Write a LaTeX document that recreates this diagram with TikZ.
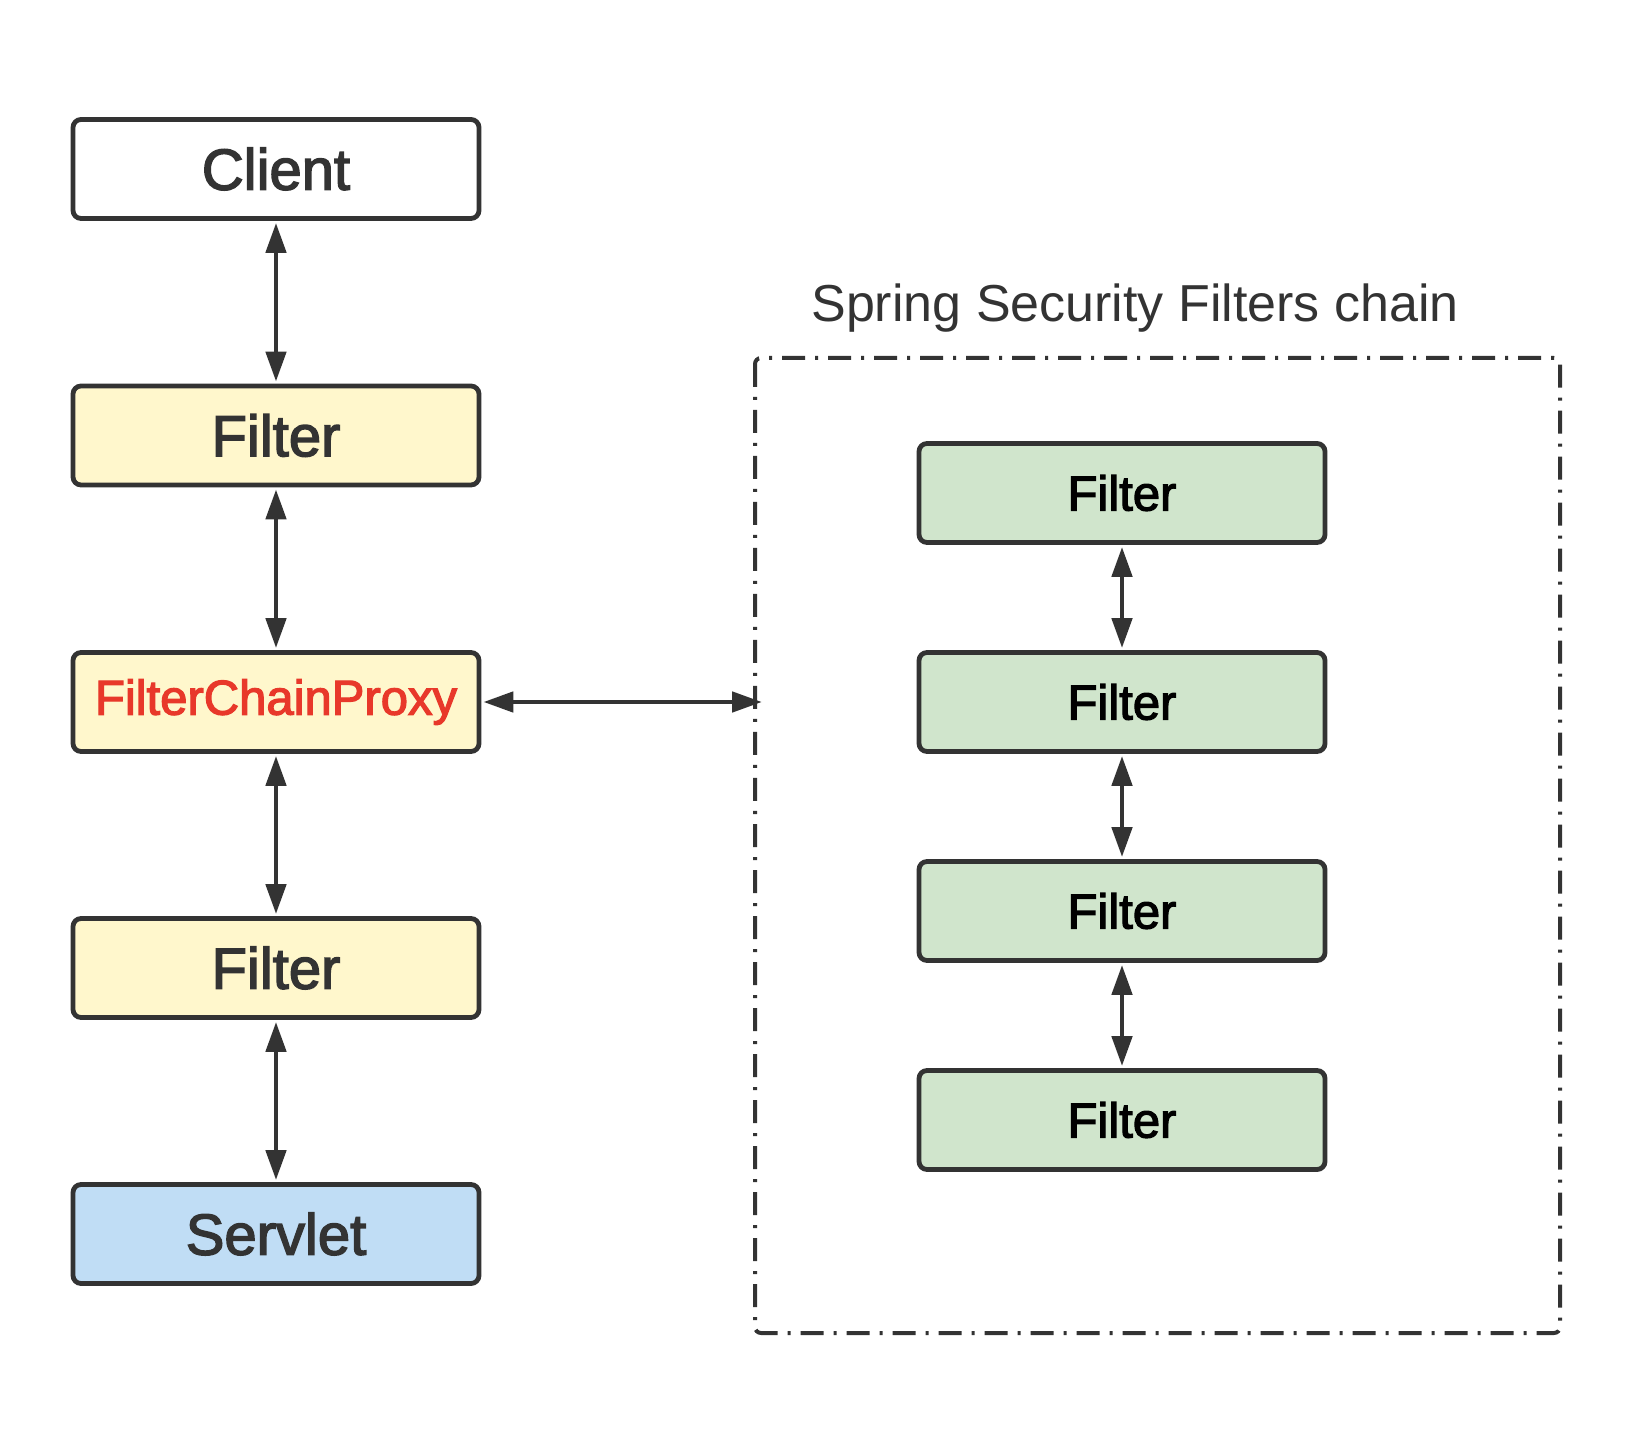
\documentclass[tikz,border=0pt]{standalone}
\usepackage{fontspec}
\setmainfont{Liberation Sans}
\newfontfamily\boxfont{Liberation Sans}[FakeBold=2.5]
\usetikzlibrary{calc,arrows.meta}

\definecolor{edgegray}{HTML}{333333}
\definecolor{proxyred}{HTML}{E8382A}
\definecolor{filteryellow}{HTML}{FFF7CC}
\definecolor{chaingreen}{HTML}{D0E5CC}
\definecolor{servletblue}{HTML}{C0DDF5}

\begin{document}
\begin{tikzpicture}[x=1pt,y=1pt,
  box/.style={draw=edgegray,rectangle,line width=2.4pt,rounded corners=4pt,
    minimum width=203pt,minimum height=49.5pt,inner sep=0pt},
  leftbox/.style={box,text=edgegray,font=\boxfont\fontsize{29}{34}\selectfont},
  chainbox/.style={box,fill=chaingreen,text=black,font=\boxfont\fontsize{24.5}{29}\selectfont},
  link/.style={{Triangle[length=15pt,width=10pt]}-{Triangle[length=15pt,width=10pt]},
    draw=edgegray,line width=2.4pt,shorten <=1pt,shorten >=1pt}]
\useasboundingbox (0,0) rectangle (817,-727);

% left column
\draw node [leftbox,fill=white] (client) at (138,-84.5) {Client};
\draw node [leftbox,fill=filteryellow] (filterA) at (138,-217.75) {Filter};
\draw node [leftbox,fill=filteryellow,text=proxyred,font=\boxfont\fontsize{24.5}{29}\selectfont] (proxy) at (138,-351) {FilterChainProxy};
\draw node [leftbox,fill=filteryellow] (filterB) at (138,-484) {Filter};
\draw node [leftbox,fill=servletblue] (servlet) at (138,-617) {Servlet};

\draw[link] (client) -- (filterA);
\draw[link] (filterA) -- (proxy);
\draw[link] (proxy) -- (filterB);
\draw[link] (filterB) -- (servlet);

% security chain
\draw[edgegray,line width=2pt,rounded corners=3pt,
  dash pattern=on 11.5pt off 5pt on 1.5pt off 5pt] (377.5,-179) rectangle (780,-666.5);
\draw node [text=edgegray,font=\fontsize{26}{31}\selectfont] (title) at (567.5,-154) {Spring Security Filters chain};

\draw node [chainbox] (chainA) at (561,-246.5) {Filter};
\draw node [chainbox] (chainB) at (561,-351) {Filter};
\draw node [chainbox] (chainC) at (561,-455.5) {Filter};
\draw node [chainbox] (chainD) at (561,-560) {Filter};

\draw[link] (chainA) -- (chainB);
\draw[link] (chainB) -- (chainC);
\draw[link] (chainC) -- (chainD);

\coordinate (chainedge) at (382,-351);
\draw[link] (proxy) -- (chainedge);

\end{tikzpicture}
\end{document}
